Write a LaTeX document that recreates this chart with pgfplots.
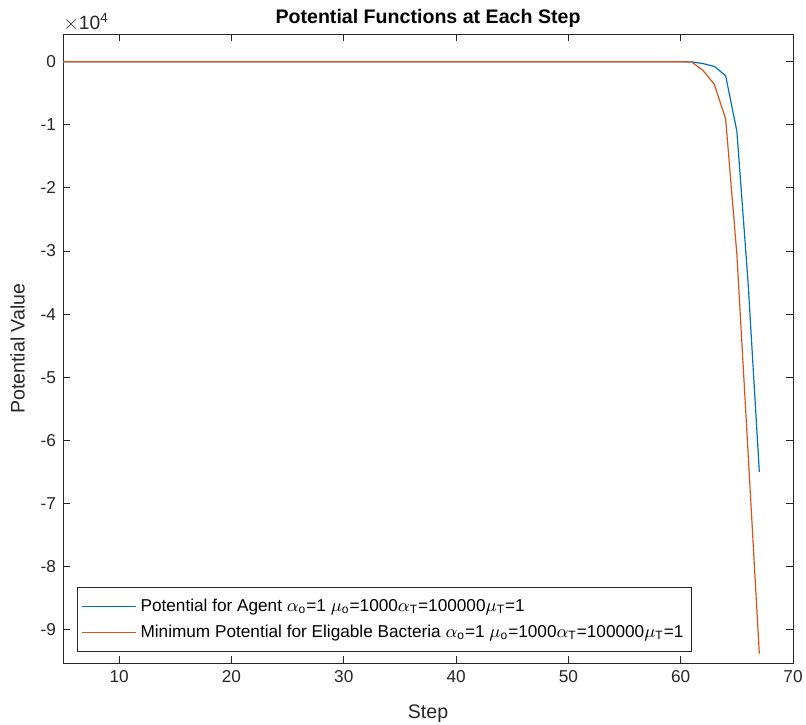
\documentclass[border=0pt]{standalone}
\usepackage{amsmath}
\usepackage{fontspec}
\setmainfont{Liberation Sans}
\setsansfont{Liberation Sans}
\usepackage{pgfplots}
\pgfplotsset{compat=1.18}
\definecolor{mblue}{rgb}{0,0.447,0.741}
\definecolor{morange}{rgb}{0.85,0.325,0.098}
\definecolor{mframe}{rgb}{0.15,0.15,0.15}
\begin{document}
\begin{tikzpicture}
\begin{axis}[
  name=ax,
  scale only axis,
  width=365pt, height=314.5pt,
  xmin=5, xmax=70,
  ymin=-95300, ymax=4400,
  xtick={10,20,30,40,50,60,70},
  xticklabels={10,20,30,40,50,60,70},
  ytick={-90000,-80000,-70000,-60000,-50000,-40000,-30000,-20000,-10000,0},
  yticklabels={-9,-8,-7,-6,-5,-4,-3,-2,-1,0},
  scaled y ticks=false,
  tick align=inside,
  xtick pos=both, ytick pos=both,
  major tick length=3.5pt,
  axis line style={mframe, line width=0.5pt},
  tick style={mframe, line width=0.5pt},
  tick label style={font=\fontsize{8.6}{10}\selectfont, text=mframe},
  xlabel={Step},
  ylabel={Potential Value},
  label style={font=\fontsize{9.8}{11}\selectfont, text=mframe},
  xlabel style={yshift=-4.5pt},
  ylabel style={yshift=1pt},
  title={\textbf{Potential Functions at Each Step}},
  title style={font=\fontsize{9.8}{11}\selectfont, yshift=-6.5pt},
  legend style={at={(rel axis cs:0.019,0.0175)}, anchor=south west,
    font=\fontsize{8.6}{10}\selectfont, draw=mframe, line width=0.5pt,
    inner xsep=2pt, inner ysep=3.5pt, row sep=1.5pt},
  legend cell align=left,
  legend image code/.code={\draw[#1] (0pt,0pt) -- (27pt,0pt);},
  clip=true,
]
\addplot[draw=mblue, line width=0.6pt] coordinates {
(5,0)(6,0)(7,0)(8,0)(9,0)(10,0)(11,0)(12,0)(13,0)(14,0)(15,0)(16,0)(17,0)(18,0)(19,0)
(20,0)(21,0)(22,0)(23,0)(24,0)(25,0)(26,0)(27,0)(28,0)(29,0)(30,0)(31,0)(32,0)(33,0)(34,0)
(35,0)(36,0)(37,0)(38,0)(39,0)(40,0)(41,0)(42,0)(43,0)(44,0)(45,0)(46,0)(47,0)(48,0)(49,0)
(50,0)(51,0)(52,0)(53,0)(54,0)(55,0)(56,0)(57,0)(58,0)(59,0)(60,0)(61,-20)
(62,-300)(63,-740)(64,-2200)(65,-11000)(66,-35000)(67,-65000)
};
\addlegendentry{Potential for Agent $\alpha_{\text{o}}$=1 $\mu_{\text{o}}$=1000$\alpha_{\text{T}}$=100000$\mu_{\text{T}}$=1}
\addplot[draw=morange, line width=0.6pt] coordinates {
(5,0)(6,0)(7,0)(8,0)(9,0)(10,0)(11,0)(12,0)(13,0)(14,0)(15,0)(16,0)(17,0)(18,0)(19,0)
(20,0)(21,0)(22,0)(23,0)(24,0)(25,0)(26,0)(27,0)(28,0)(29,0)(30,0)(31,0)(32,0)(33,0)(34,0)
(35,0)(36,0)(37,0)(38,0)(39,0)(40,0)(41,0)(42,0)(43,0)(44,0)(45,0)(46,0)(47,0)(48,0)(49,0)
(50,0)(51,0)(52,0)(53,0)(54,0)(55,0)(56,0)(57,0)(58,0)(59,0)(60,0)(61,-50)
(62,-1400)(63,-3600)(64,-9050)(65,-30500)(66,-62000)(67,-93800)
};
\addlegendentry{Minimum Potential for Eligable Bacteria $\alpha_{\text{o}}$=1 $\mu_{\text{o}}$=1000$\alpha_{\text{T}}$=100000$\mu_{\text{T}}$=1}
\end{axis}
\node[anchor=south west, inner sep=0pt, font=\fontsize{9.6}{11}\selectfont, text=mframe] at ([yshift=1pt]ax.north west) {$\times$10\textsuperscript{4}};
\pgfresetboundingbox
\path ([shift={(-31.5pt,-30.5pt)}]ax.south west) rectangle ([shift={(6.5pt,17pt)}]ax.north east);
\end{tikzpicture}
\end{document}
